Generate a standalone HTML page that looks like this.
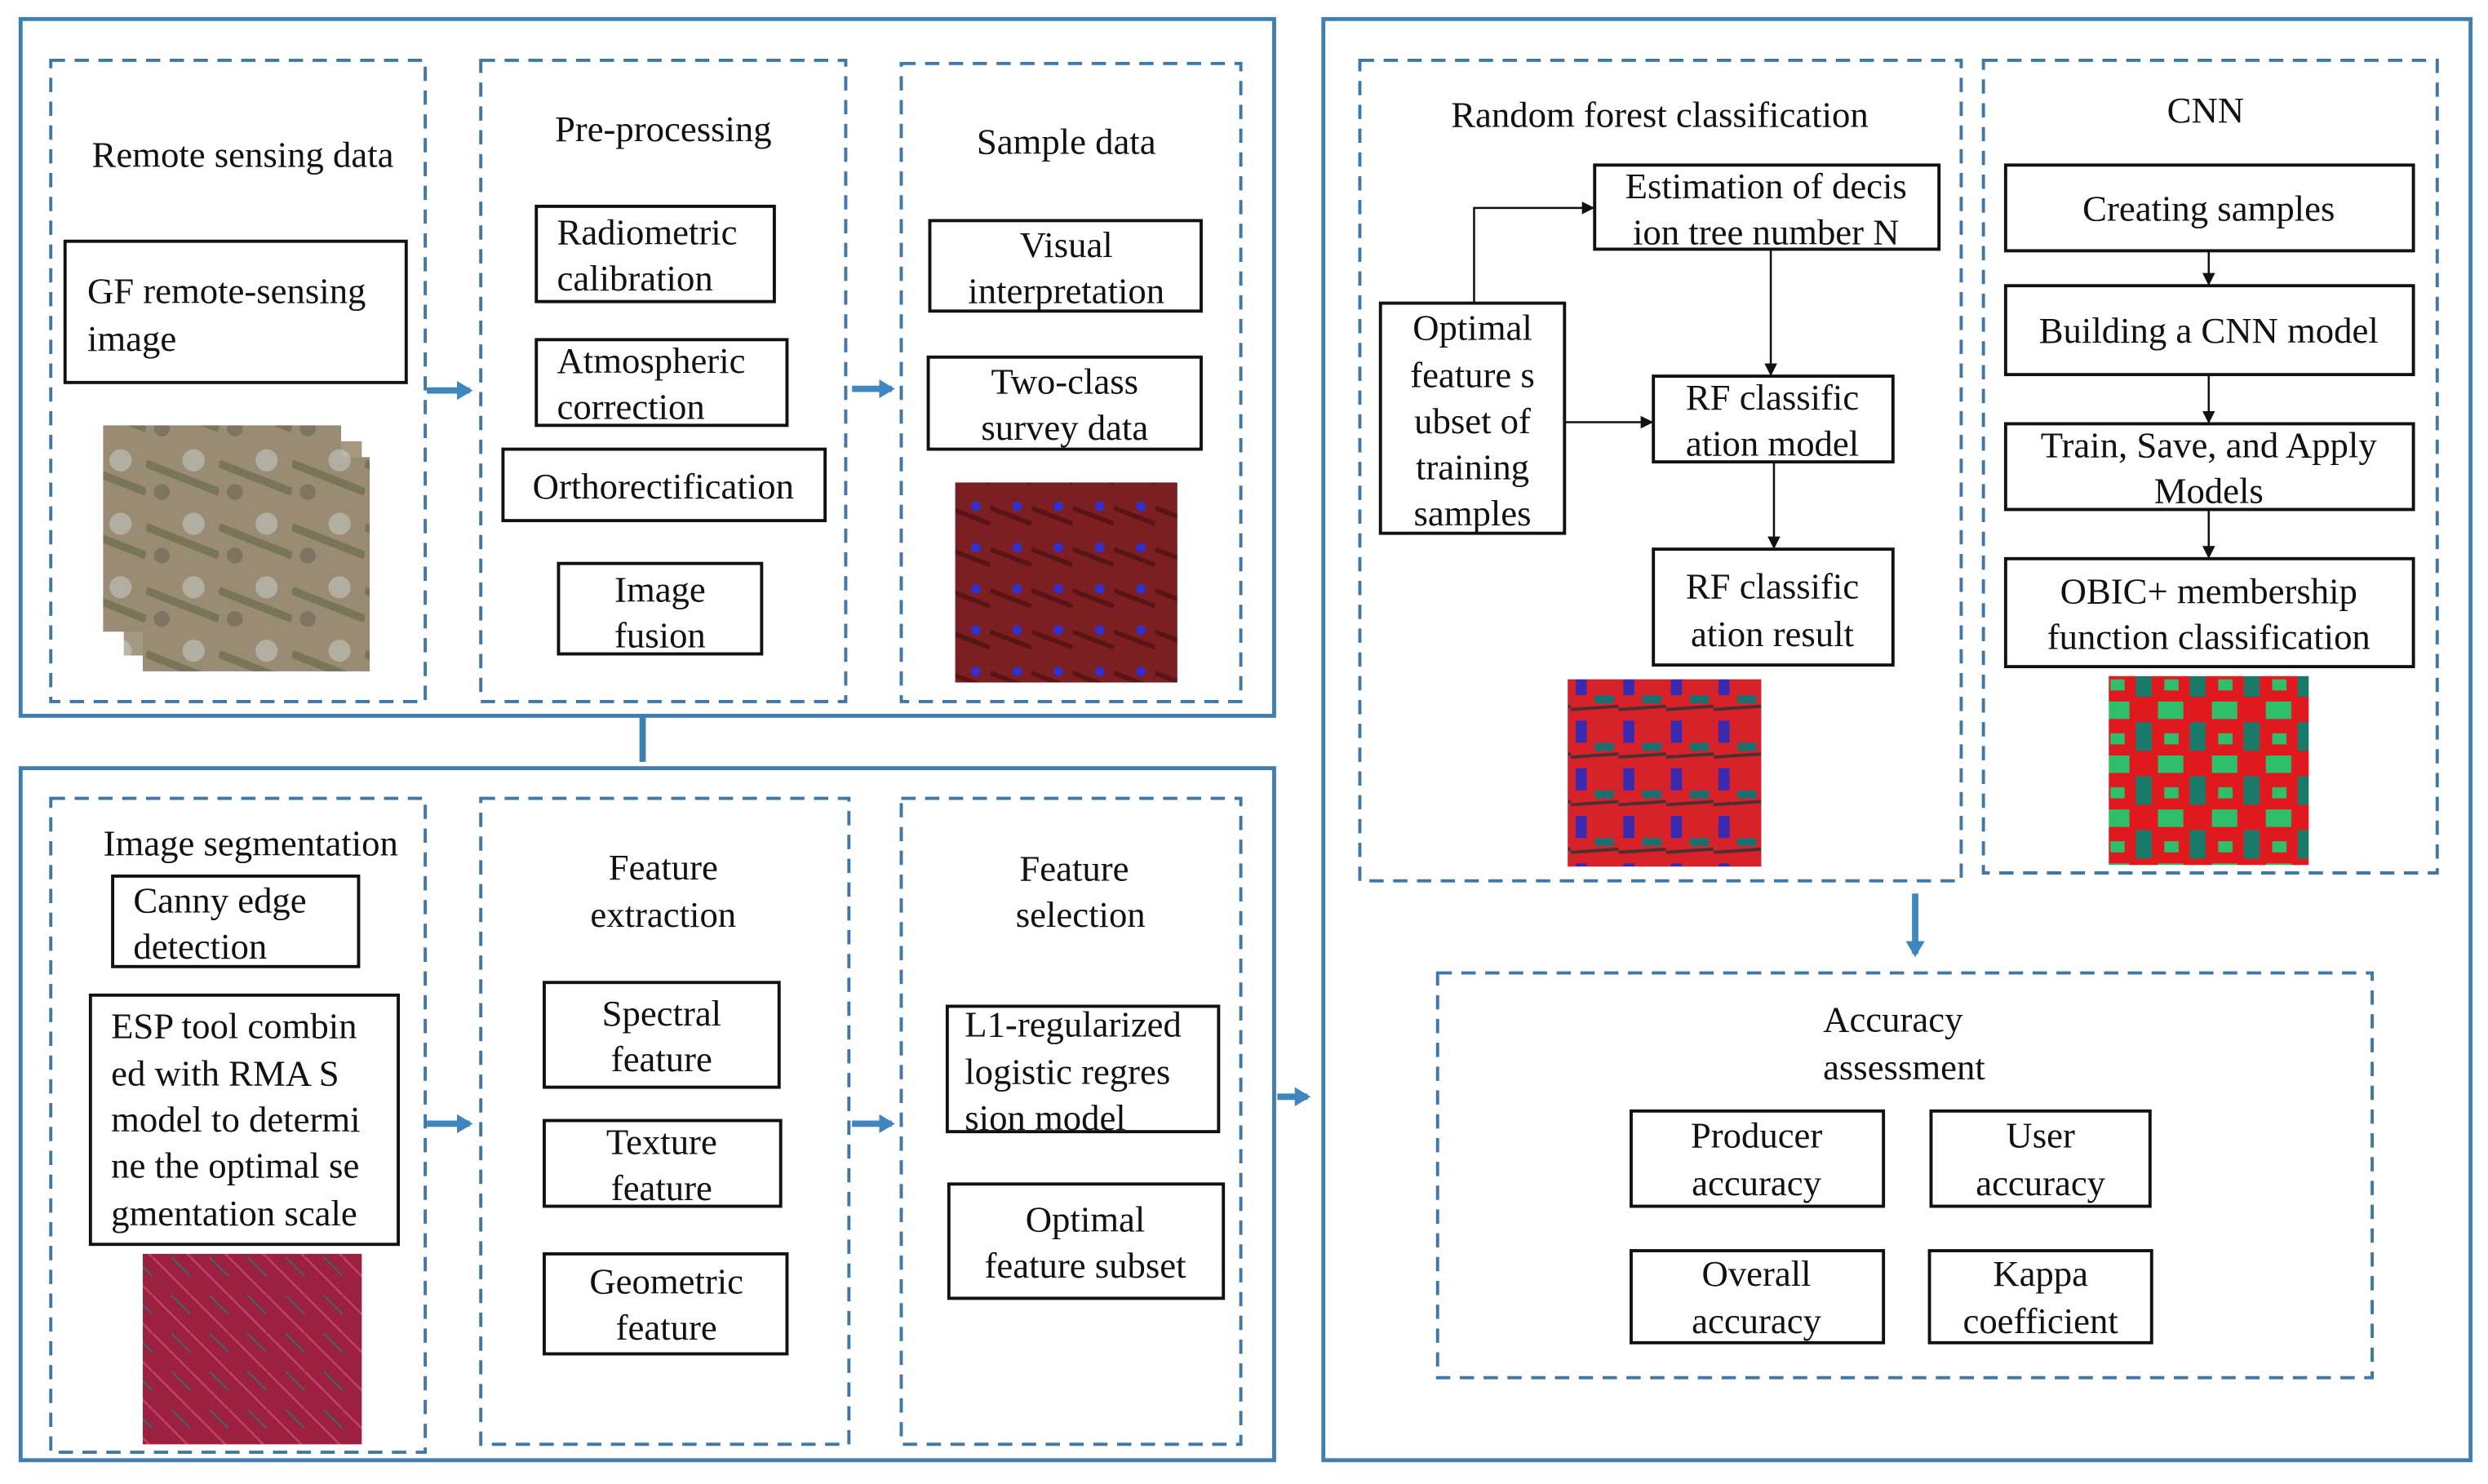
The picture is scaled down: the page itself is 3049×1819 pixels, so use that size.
<!DOCTYPE html>
<html><head><meta charset="utf-8"><style>
html,body{margin:0;padding:0;background:#fff;}
svg{display:block;}
text{font-family:"Liberation Serif",serif;font-size:23px;fill:#111;}
.ob{fill:none;stroke:#3f7fb0;stroke-width:2.5;}
.db{fill:none;stroke:#3f77a6;stroke-width:2;stroke-dasharray:9,6;}
.bx{fill:#fff;stroke:#111;stroke-width:2;}
.ln{stroke:#111;stroke-width:1.3;fill:none;}
.ba{stroke:#3f85c0;stroke-width:4;fill:none;}
</style></head><body>
<svg width="3049" height="1819" viewBox="0 0 1568 935" preserveAspectRatio="none" xmlns="http://www.w3.org/2000/svg">
<defs>
<marker id="ah" markerWidth="8" markerHeight="8" refX="7" refY="4" orient="auto" markerUnits="userSpaceOnUse"><path d="M0,0 L8,4 L0,8z" fill="#111"/></marker>
<marker id="bh" markerWidth="10" markerHeight="12" refX="8" refY="6" orient="auto" markerUnits="userSpaceOnUse"><path d="M0,0 L10,6 L0,12z" fill="#3f85c0"/></marker>
<pattern id="sat" width="46" height="40" patternUnits="userSpaceOnUse"><rect width="46" height="40" fill="#9a8c74"/><path d="M0,12 L46,30" stroke="#6a6a4e" stroke-width="5" opacity="0.7"/><circle cx="30" cy="10" r="7" fill="#b8b6ac" opacity="0.8"/><circle cx="10" cy="30" r="5" fill="#7d7560"/></pattern>
<pattern id="red" width="26" height="26" patternUnits="userSpaceOnUse"><rect width="26" height="26" fill="#7c1f22"/><path d="M0,8 L26,18" stroke="#5a1416" stroke-width="3"/><circle cx="17" cy="7" r="3" fill="#3030d0"/></pattern>
<pattern id="pink" width="24" height="24" patternUnits="userSpaceOnUse"><rect width="24" height="24" fill="#9c2040"/><path d="M0,0 L24,24" stroke="#c84070" stroke-width="1.2"/><path d="M12,0 L24,12" stroke="#3a6a6a" stroke-width="1"/></pattern>
<pattern id="rf" width="30" height="30" patternUnits="userSpaceOnUse"><rect width="30" height="30" fill="#d8222a"/><rect x="3" y="4" width="7" height="14" fill="#3a2ab0"/><rect x="15" y="18" width="12" height="5" fill="#1a7070"/><path d="M0,27 L30,25" stroke="#4a3030" stroke-width="2"/></pattern>
<pattern id="cnn" width="34" height="34" patternUnits="userSpaceOnUse"><rect width="34" height="34" fill="#e0191f"/><rect x="0" y="0" width="16" height="11" fill="#2fbf6a"/><rect x="20" y="13" width="10" height="18" fill="#1a7a6a"/><rect x="4" y="20" width="9" height="7" fill="#2fbf6a"/></pattern>
</defs>

<rect class="ob" x="13" y="12" width="790" height="439"/>
<rect class="ob" x="13" y="484" width="790" height="436"/>
<rect class="ob" x="834" y="12" width="723" height="908"/>

<rect class="db" x="32" y="38" width="236" height="404"/>
<rect class="db" x="303" y="38" width="230" height="404"/>
<rect class="db" x="568" y="40" width="214" height="402"/>
<text x="153" y="105" text-anchor="middle">Remote sensing data</text>
<rect class="bx" x="41" y="152" width="215" height="89"/>
<text x="55" y="191">GF  remote-sensing</text>
<text x="55" y="221">image</text>
<rect x="65" y="268" width="150" height="130" fill="url(#sat)"/>
<rect x="78" y="278" width="150" height="135" fill="url(#sat)" opacity="0.9"/>
<rect x="90" y="288" width="143" height="135" fill="url(#sat)"/>

<text x="418" y="89" text-anchor="middle">Pre-processing</text>
<rect class="bx" x="338" y="130" width="150" height="60"/>
<text x="351" y="154">Radiometric</text><text x="351" y="183">calibration</text>
<rect class="bx" x="338" y="214" width="158" height="54"/>
<text x="351" y="235">Atmospheric</text><text x="351" y="264">correction</text>
<rect class="bx" x="317" y="283" width="203" height="45"/>
<text x="418" y="314" text-anchor="middle">Orthorectification</text>
<rect class="bx" x="352" y="355" width="128" height="57"/>
<text x="416" y="379" text-anchor="middle">Image</text><text x="416" y="408" text-anchor="middle">fusion</text>

<text x="672" y="97" text-anchor="middle">Sample data</text>
<rect class="bx" x="586" y="139" width="171" height="57"/>
<text x="672" y="162" text-anchor="middle">Visual</text><text x="672" y="191" text-anchor="middle">interpretation</text>
<rect class="bx" x="585" y="225" width="172" height="58"/>
<text x="671" y="248" text-anchor="middle">Two-class</text><text x="671" y="277" text-anchor="middle">survey data</text>
<rect x="602" y="304" width="140" height="126" fill="url(#red)"/>

<line class="ba" x1="269" y1="246" x2="296" y2="246" marker-end="url(#bh)"/>
<line class="ba" x1="537" y1="245" x2="562" y2="245" marker-end="url(#bh)"/>
<line x1="405" y1="451" x2="405" y2="480" stroke="#3f7fb0" stroke-width="4"/>

<rect class="db" x="32" y="503" width="236" height="412"/>
<rect class="db" x="303" y="503" width="232" height="407"/>
<rect class="db" x="568" y="503" width="214" height="407"/>
<text x="158" y="539" text-anchor="middle">Image segmentation</text>
<rect class="bx" x="71" y="552" width="155" height="57"/>
<text x="84" y="575">Canny    edge</text><text x="84" y="604">detection</text>
<rect class="bx" x="57" y="627" width="194" height="157"/>
<text x="70" y="654">ESP tool combin</text>
<text x="70" y="684">ed  with  RMA  S</text>
<text x="70" y="713">model to determi</text>
<text x="70" y="742">ne the optimal se</text>
<text x="70" y="772">gmentation scale</text>
<rect x="90" y="790" width="138" height="120" fill="url(#pink)"/>

<text x="418" y="554" text-anchor="middle">Feature</text>
<text x="418" y="584" text-anchor="middle">extraction</text>
<rect class="bx" x="343" y="619" width="148" height="66"/>
<text x="417" y="646" text-anchor="middle">Spectral</text><text x="417" y="675" text-anchor="middle">feature</text>
<rect class="bx" x="343" y="706" width="149" height="54"/>
<text x="417" y="727" text-anchor="middle">Texture</text><text x="417" y="756" text-anchor="middle">feature</text>
<rect class="bx" x="343" y="790" width="153" height="63"/>
<text x="420" y="815" text-anchor="middle">Geometric</text><text x="420" y="844" text-anchor="middle">feature</text>

<text x="677" y="555" text-anchor="middle">Feature</text>
<text x="681" y="584" text-anchor="middle">selection</text>
<rect class="bx" x="597" y="634" width="171" height="79"/>
<text x="608" y="653">L1-regularized</text>
<text x="608" y="683">logistic   regres</text>
<text x="608" y="712">sion model</text>
<rect class="bx" x="598" y="746" width="173" height="72"/>
<text x="684" y="776" text-anchor="middle">Optimal</text><text x="684" y="805" text-anchor="middle">feature subset</text>

<line class="ba" x1="269" y1="708" x2="296" y2="708" marker-end="url(#bh)"/>
<line class="ba" x1="537" y1="708" x2="562" y2="708" marker-end="url(#bh)"/>
<line class="ba" x1="805" y1="691" x2="824" y2="691" marker-end="url(#bh)"/>

<rect class="db" x="857" y="38" width="379" height="517"/>
<rect class="db" x="1250" y="38" width="286" height="512"/>
<text x="1046" y="80" text-anchor="middle">Random forest classification</text>
<rect class="bx" x="1005" y="104" width="217" height="53"/>
<text x="1113" y="125" text-anchor="middle">Estimation of decis</text>
<text x="1113" y="154" text-anchor="middle">ion tree number N</text>
<rect class="bx" x="870" y="191" width="116" height="145"/>
<text x="928" y="214" text-anchor="middle">Optimal</text>
<text x="928" y="244" text-anchor="middle">feature s</text>
<text x="928" y="273" text-anchor="middle">ubset of</text>
<text x="928" y="302" text-anchor="middle">training</text>
<text x="928" y="331" text-anchor="middle">samples</text>
<rect class="bx" x="1042" y="237" width="151" height="54"/>
<text x="1117" y="258" text-anchor="middle">RF classific</text><text x="1117" y="287" text-anchor="middle">ation model</text>
<rect class="bx" x="1042" y="346" width="151" height="73"/>
<text x="1117" y="377" text-anchor="middle">RF classific</text><text x="1117" y="407" text-anchor="middle">ation result</text>
<rect x="988" y="428" width="122" height="118" fill="url(#rf)"/>
<path class="ln" d="M929,191 V131 H1004" marker-end="url(#ah)"/>
<line class="ln" x1="986" y1="266" x2="1041" y2="266" marker-end="url(#ah)"/>
<line class="ln" x1="1116" y1="157" x2="1116" y2="236" marker-end="url(#ah)"/>
<line class="ln" x1="1118" y1="291" x2="1118" y2="345" marker-end="url(#ah)"/>

<text x="1390" y="77" text-anchor="middle">CNN</text>
<rect class="bx" x="1264" y="104" width="257" height="54"/>
<text x="1392" y="139" text-anchor="middle">Creating samples</text>
<rect class="bx" x="1264" y="180" width="257" height="56"/>
<text x="1392" y="216" text-anchor="middle">Building a CNN model</text>
<rect class="bx" x="1264" y="267" width="257" height="54"/>
<text x="1392" y="288" text-anchor="middle">Train, Save, and Apply</text>
<text x="1392" y="317" text-anchor="middle">Models</text>
<rect class="bx" x="1264" y="352" width="257" height="68"/>
<text x="1392" y="380" text-anchor="middle">OBIC+ membership</text>
<text x="1392" y="409" text-anchor="middle">function classification</text>
<line class="ln" x1="1392" y1="158" x2="1392" y2="179" marker-end="url(#ah)"/>
<line class="ln" x1="1392" y1="236" x2="1392" y2="266" marker-end="url(#ah)"/>
<line class="ln" x1="1392" y1="321" x2="1392" y2="351" marker-end="url(#ah)"/>
<rect x="1329" y="426" width="126" height="119" fill="url(#cnn)"/>

<line class="ba" x1="1207" y1="563" x2="1207" y2="601" marker-end="url(#bh)"/>

<rect class="db" x="906" y="613" width="589" height="255"/>
<text x="1193" y="650" text-anchor="middle">Accuracy</text>
<text x="1200" y="680" text-anchor="middle">assessment</text>
<rect class="bx" x="1028" y="700" width="159" height="60"/>
<text x="1107" y="723" text-anchor="middle">Producer</text><text x="1107" y="753" text-anchor="middle">accuracy</text>
<rect class="bx" x="1217" y="700" width="138" height="60"/>
<text x="1286" y="723" text-anchor="middle">User</text><text x="1286" y="753" text-anchor="middle">accuracy</text>
<rect class="bx" x="1028" y="788" width="159" height="58"/>
<text x="1107" y="810" text-anchor="middle">Overall</text><text x="1107" y="840" text-anchor="middle">accuracy</text>
<rect class="bx" x="1216" y="788" width="140" height="58"/>
<text x="1286" y="810" text-anchor="middle">Kappa</text><text x="1286" y="840" text-anchor="middle">coefficient</text>
</svg>
</body></html>
